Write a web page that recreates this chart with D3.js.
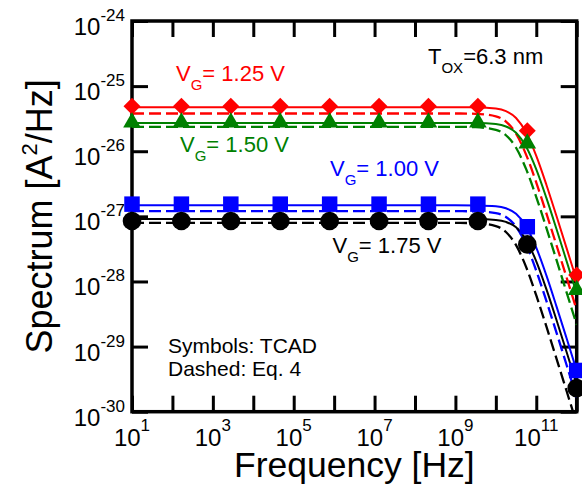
<!DOCTYPE html>
<html><head><meta charset="utf-8">
<script src="https://cdn.jsdelivr.net/npm/d3@7"></script>
<style>
body{margin:0;background:#fff}
svg{display:block}
text{font-family:"Liberation Sans",Arial,Helvetica,sans-serif}
</style>
</head><body>
<svg id="chart" width="582" height="492"></svg>
<script>
// ---- data ----
const symFreq = [1e1, 1.668e2, 2.783e3, 4.642e4, 7.743e5, 1.292e7, 2.154e8, 3.594e9, 5.995e10, 1e12];
const tcad125 = [4.9e-26, 4.9e-26, 4.9e-26, 4.9e-26, 4.9e-26, 4.9e-26, 4.9e-26, 4.9e-26, 2.07e-26, 1.26e-28];
const tcad150 = [2.76e-26, 2.76e-26, 2.76e-26, 2.76e-26, 2.76e-26, 2.76e-26, 2.76e-26, 2.76e-26, 1.32e-26, 7.4e-29];
const tcad100 = [1.54e-27, 1.54e-27, 1.54e-27, 1.54e-27, 1.54e-27, 1.54e-27, 1.54e-27, 1.54e-27, 6.93e-28, 4.3e-30];
const tcad175 = [8.49e-28, 8.49e-28, 8.49e-28, 8.49e-28, 8.49e-28, 8.49e-28, 8.49e-28, 8.49e-28, 3.71e-28, 2.3e-30];

const lineFreq = [1e1, 1e9, 3.162e9, 1e10, 1.778e10, 3.162e10, 5.623e10, 1e11, 1.778e11, 3.162e11, 5.623e11, 1e12];
const solid125 = [4.73e-26, 4.73e-26, 4.71e-26, 4.53e-26, 4.13e-26, 3.24e-26, 1.94e-26, 8.49e-27, 3.06e-27, 1.01e-27, 3.25e-28, 1.03e-28];
const dash125  = [3.80e-26, 3.80e-26, 3.76e-26, 3.44e-26, 2.86e-26, 1.86e-26, 8.81e-27, 3.31e-27, 1.11e-27, 3.60e-28, 1.15e-28, 3.63e-29];
const solid150 = [2.72e-26, 2.72e-26, 2.71e-26, 2.61e-26, 2.40e-26, 1.92e-26, 1.17e-26, 5.27e-27, 1.92e-27, 6.38e-28, 2.05e-28, 6.52e-29];
const dash150  = [2.37e-26, 2.37e-26, 2.34e-26, 2.13e-26, 1.76e-26, 1.13e-26, 5.30e-27, 1.98e-27, 6.64e-28, 2.14e-28, 6.81e-29, 2.16e-29];
const solid100 = [1.48e-27, 1.48e-27, 1.47e-27, 1.43e-27, 1.33e-27, 1.10e-27, 7.05e-28, 3.31e-28, 1.24e-28, 4.15e-29, 1.34e-29, 4.26e-30];
const dash100  = [1.20e-27, 1.20e-27, 1.19e-27, 1.12e-27, 9.77e-28, 6.97e-28, 3.66e-28, 1.46e-28, 5.02e-29, 1.64e-29, 5.22e-30, 1.66e-30];
const solid175 = [9.12e-28, 9.12e-28, 9.08e-28, 8.81e-28, 8.22e-28, 6.78e-28, 4.35e-28, 2.04e-28, 7.62e-29, 2.56e-29, 8.24e-30, 2.62e-30];
const dash175  = [7.94e-28, 7.94e-28, 7.85e-28, 7.10e-28, 5.75e-28, 3.61e-28, 1.66e-28, 6.10e-29, 2.04e-29, 6.55e-30, 2.08e-30, 6.61e-31];

const xTickValues = [1e1, 1e3, 1e5, 1e7, 1e9, 1e11];
const xTickExp = ["1", "3", "5", "7", "9", "11"];
const yTickValues = [1e-24, 1e-25, 1e-26, 1e-27, 1e-28, 1e-29, 1e-30];
const yTickExp = ["-24", "-25", "-26", "-27", "-28", "-29", "-30"];
const xMinorDecades = [1e1,1e2,1e3,1e4,1e5,1e6,1e7,1e8,1e9,1e10,1e11,1e12];

const seriesNames = ["1.25", "1.50", "1.00", "1.75"];
const seriesColors = ["#ff0000", "#008000", "#0000ff", "#000000"];

// ---- layout ----
const L = 132, R = 576.7, T = 21, B = 411.7;
const svg = d3.select("#chart");
const x = d3.scaleLog().domain([1e1, 1e12]).range([L, R]);
const y = d3.scaleLog().domain([1e-30, 1e-24]).range([B, T]);

svg.append("defs").append("clipPath").attr("id","clip")
  .append("rect").attr("x", L).attr("y", T).attr("width", R - L).attr("height", B - T);

// axes ticks (inward)
const tickLen = 16;
function styleAxis(g){
  g.select(".domain").remove();
  g.selectAll(".tick line").attr("stroke","#000").attr("stroke-width",3);
  g.selectAll(".tick text").remove();
}
svg.append("g").attr("transform",`translate(0,${B})`)
  .call(d3.axisBottom(x).tickValues(xMinorDecades).tickSize(-tickLen).tickFormat(""))
  .call(styleAxis);
svg.append("g").attr("transform",`translate(0,${T})`)
  .call(d3.axisTop(x).tickValues(xMinorDecades).tickSize(-tickLen).tickFormat(""))
  .call(styleAxis);
svg.append("g").attr("transform",`translate(${L},0)`)
  .call(d3.axisLeft(y).tickValues(yTickValues).tickSize(-tickLen).tickFormat(""))
  .call(styleAxis);
svg.append("g").attr("transform",`translate(${R},0)`)
  .call(d3.axisRight(y).tickValues(yTickValues).tickSize(-tickLen).tickFormat(""))
  .call(styleAxis);

// frame
svg.append("rect").attr("x", L).attr("y", T).attr("width", R - L).attr("height", B - T)
  .attr("fill","none").attr("stroke","#000").attr("stroke-width",3.5);

// tick labels
const xl = svg.append("g");
xTickValues.forEach((v,i)=>{
  const t = xl.append("text").attr("x", x(v)).attr("y", B + 34)
    .attr("text-anchor","middle").attr("font-size", 24);
  t.append("tspan").text("10");
  t.append("tspan").attr("font-size",17).attr("dy",-14.5).text(xTickExp[i]);
});
const yl = svg.append("g");
yTickValues.forEach((v,i)=>{
  const t = yl.append("text").attr("x", 125).attr("y", y(v) + 14)
    .attr("text-anchor","end").attr("font-size", 24);
  t.append("tspan").text("10");
  t.append("tspan").attr("font-size",17).attr("dy",-14).text(yTickExp[i]);
});

// axis titles
svg.append("text").attr("x", (L+R)/2).attr("y", 477).attr("text-anchor","middle")
  .attr("font-size", 35.5).text("Frequency [Hz]");
const yt = svg.append("text").attr("transform",`translate(52,${(T+B)/2}) rotate(-90)`)
  .attr("text-anchor","middle").attr("font-size", 36);
yt.append("tspan").text("Spectrum [A");
yt.append("tspan").attr("font-size",22).attr("dy",-15).text("2");
yt.append("tspan").attr("dy",15).text("/Hz]");

// lines
const line = d3.line().x(d=>x(d[0])).y(d=>y(d[1])).curve(d3.curveMonotoneX);
const lines = [
  [solid125, seriesColors[0], false],[dash125, seriesColors[0], true],
  [solid150, seriesColors[1], false],[dash150, seriesColors[1], true],
  [solid100, seriesColors[2], false],[dash100, seriesColors[2], true],
  [solid175, seriesColors[3], false],[dash175, seriesColors[3], true]
];
const lg = svg.append("g").attr("clip-path","url(#clip)");
lines.forEach(([vals,col,dashed])=>{
  lg.append("path").datum(lineFreq.map((f,i)=>[f, vals[i]]))
    .attr("d", line).attr("fill","none").attr("stroke", col)
    .attr("stroke-width", dashed ? 2.3 : 2)
    .attr("stroke-dasharray", dashed ? "12,5" : null);
});

// markers
const markerSets = [
  [tcad125, seriesColors[0], d3.symbolSquare, 144, 45],
  [tcad150, seriesColors[1], d3.symbolTriangle, 135, 0],
  [tcad100, seriesColors[2], d3.symbolSquare, 240, 0],
  [tcad175, seriesColors[3], d3.symbolCircle, 272, 0]
];
const mg = svg.append("g");
markerSets.forEach(([vals,col,type,size,rot])=>{
  mg.selectAll(null).data(symFreq.map((f,i)=>[f, vals[i]])).enter().append("path")
    .attr("d", d3.symbol().type(type).size(size))
    .attr("transform", d=>`translate(${x(d[0])},${y(d[1])}) rotate(${rot})`)
    .attr("fill", col);
});

// annotations
function vgLabel(xp, yp, val, col){
  const t = svg.append("text").attr("x", xp).attr("y", yp).attr("fill", col).attr("font-size", 22);
  t.append("tspan").text("V");
  t.append("tspan").attr("font-size",15).attr("dy",9).text("G");
  t.append("tspan").attr("dy",-9).text("= " + val + " V");
}
vgLabel(176, 81, seriesNames[0], seriesColors[0]);
vgLabel(180, 151.5, seriesNames[1], seriesColors[1]);
vgLabel(330, 176, seriesNames[2], seriesColors[2]);
vgLabel(332.5, 253, seriesNames[3], seriesColors[3]);

const tox = svg.append("text").attr("x", 428).attr("y", 63.5).attr("font-size", 22);
tox.append("tspan").text("T");
tox.append("tspan").attr("font-size",15).attr("dy",9.5).text("OX");
tox.append("tspan").attr("dy",-9.5).text("=6.3 nm");

svg.append("text").attr("x",168).attr("y",353).attr("font-size",21).text("Symbols: TCAD");
svg.append("text").attr("x",168).attr("y",376).attr("font-size",21).text("Dashed: Eq. 4");
</script>
</body></html>
